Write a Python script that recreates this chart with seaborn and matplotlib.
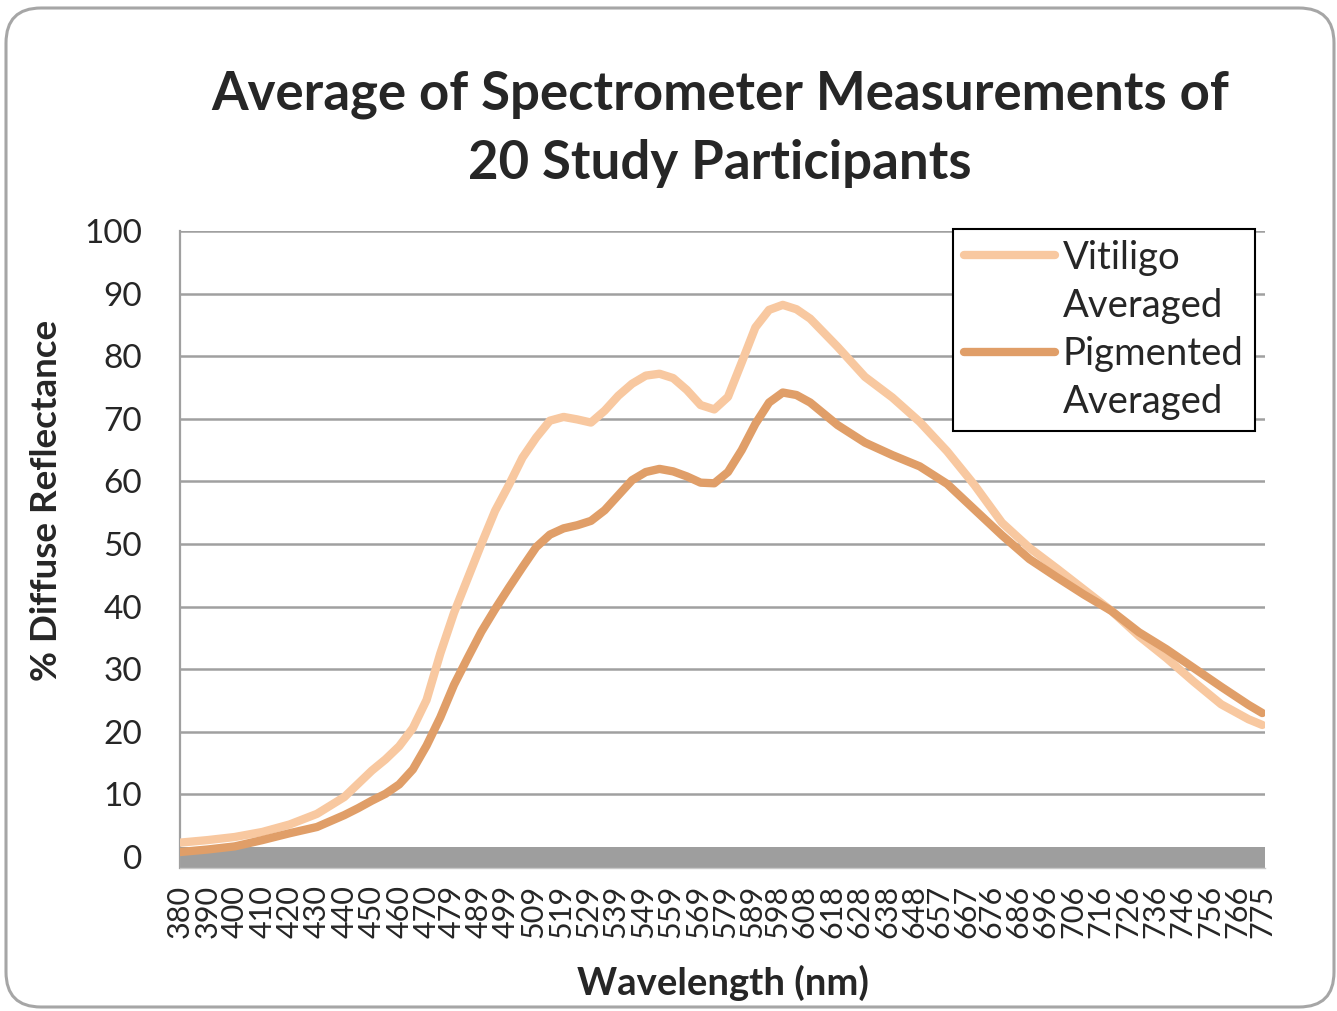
import numpy as np
import pandas as pd
import seaborn as sns
import matplotlib.pyplot as plt
from matplotlib.lines import Line2D
from matplotlib.patches import FancyBboxPatch
from matplotlib.ticker import MultipleLocator
from matplotlib.transforms import IdentityTransform

wavelength = [380, 390, 400, 410, 420, 430, 440, 445, 450, 455, 460, 465, 470, 475,
              480, 485, 490, 495, 500, 505, 510, 515, 520, 525, 530, 535, 540, 545,
              550, 555, 560, 565, 570, 575, 580, 585, 590, 595, 600, 605, 610, 620,
              630, 640, 650, 660, 670, 680, 690, 700, 710, 720, 730, 740, 750, 760,
              770, 775]

vitiligo = [2.3, 2.7, 3.2, 4.0, 5.2, 6.9, 9.6, 11.7, 13.8, 15.6, 17.7, 20.6, 25.1, 32.5,
            39.0, 44.5, 50.0, 55.3, 59.4, 63.8, 67.0, 69.7, 70.3, 69.9, 69.4, 71.3, 73.7, 75.6,
            76.9, 77.2, 76.5, 74.6, 72.2, 71.5, 73.5, 79.0, 84.6, 87.4, 88.2, 87.5, 86.0, 81.5,
            76.7, 73.4, 69.5, 64.8, 59.4, 53.4, 49.4, 46.1, 42.7, 39.3, 35.3, 31.8, 28.0, 24.4,
            22.0, 21.1]

pigmented = [0.8, 1.2, 1.7, 2.7, 3.8, 4.8, 6.7, 7.8, 9.0, 10.1, 11.6, 14.0, 17.8, 22.3,
             27.5, 31.8, 36.0, 39.6, 43.0, 46.3, 49.5, 51.5, 52.5, 53.0, 53.7, 55.4, 57.8, 60.2,
             61.5, 62.0, 61.6, 60.8, 59.8, 59.7, 61.5, 65.0, 69.2, 72.6, 74.2, 73.8, 72.6, 69.0,
             66.2, 64.2, 62.4, 59.6, 55.5, 51.4, 47.6, 44.7, 41.9, 39.3, 35.9, 33.2, 30.2, 27.2,
             24.3, 23.0]

# category labels shown on the x axis
tick_labels = [380, 390, 400, 410, 420, 430, 440, 450, 460, 470, 479, 489, 499, 509, 519,
               529, 539, 549, 559, 569, 579, 589, 598, 608, 618, 628, 638, 648, 657, 667,
               676, 686, 696, 706, 716, 726, 736, 746, 756, 766, 775]

series_names = ["Vitiligo Averaged", "Pigmented Averaged"]
colors = ["#F8C8A0", "#E09E68"]

df = pd.DataFrame({"Wavelength": wavelength,
                   series_names[0]: vitiligo,
                   series_names[1]: pigmented})

sns.set_style("white")
plt.rcParams["font.family"] = ["Lato", "DejaVu Sans"]

fig = plt.figure(figsize=(13.37, 10.11), dpi=100)
ax = fig.add_axes([180 / 1337, 1 - 868.3 / 1011, 1085 / 1337, 637.3 / 1011])

grid_col = "#A0A0A0"

# grey floor band under the zero line
ax.axhspan(-1.8, 1.6, color="#9E9E9E", zorder=1, lw=0)

for name, col in zip(series_names, colors):
    sns.lineplot(data=df, x="Wavelength", y=name, color=col, linewidth=6,
                 ax=ax, zorder=3, legend=False)

ax.set_xlim(380, 776)
ax.set_ylim(-1.8, 100)
ax.set_xlabel("")
ax.set_ylabel("")

ax.yaxis.set_major_locator(MultipleLocator(10))
ax.yaxis.set_minor_locator(MultipleLocator(2))
ax.set_yticks(range(0, 101, 10))
ax.yaxis.grid(True, color=grid_col, lw=1.8, zorder=0)
ax.tick_params(axis="y", which="major", direction="out", length=9.4, width=1.5,
               color=grid_col, pad=18, labelsize=24)
ax.tick_params(axis="y", which="minor", direction="inout", length=13.7, width=1.5,
               color=grid_col)

ax.set_xticks(tick_labels)
ax.set_xticklabels([str(t) for t in tick_labels], rotation=90, fontsize=22)
ax.tick_params(axis="x", length=0, pad=12)

for side in ["top", "right"]:
    ax.spines[side].set_visible(False)
ax.spines["left"].set_color(grid_col)
ax.spines["left"].set_linewidth(1.6)
ax.spines["bottom"].set_color("#C8C8C8")
ax.spines["bottom"].set_linewidth(1)

# legend: each label spread over two rows, line only on the first
handles = [Line2D([], [], color=colors[0], lw=6, solid_capstyle="round"),
           Line2D([], [], color="none"),
           Line2D([], [], color=colors[1], lw=6, solid_capstyle="round"),
           Line2D([], [], color="none")]
labels = ["Vitiligo", "Averaged", "Pigmented", "Averaged"]
leg = ax.legend(handles, labels, loc="upper left",
                bbox_to_anchor=(953 / 1337, 1 - 229 / 1011),
                bbox_transform=fig.transFigure, borderaxespad=0,
                fontsize=27.5, handlelength=2.4, handletextpad=0.2,
                labelspacing=0.32, borderpad=0.28, fancybox=False,
                framealpha=1, edgecolor="black")
leg.get_frame().set_linewidth(1.5)

fig.text(720 / 1337, 1 - 129 / 1011,
         "Average of Spectrometer Measurements of\n20 Study Participants",
         ha="center", va="center", fontsize=38, fontweight="bold", linespacing=1.5)
fig.text(47 / 1337, 1 - 500 / 1011, "% Diffuse Reflectance", rotation=90,
         ha="center", va="center", fontsize=26.5, fontweight="bold")
fig.text(723 / 1337, 1 - 983 / 1011, "Wavelength (nm)",
         ha="center", va="center", fontsize=27.5, fontweight="bold")

# rounded outer border of the chart area
border = FancyBboxPatch((6, 4), 1328, 999, boxstyle="round,pad=0,rounding_size=35",
                        transform=IdentityTransform(), facecolor="none",
                        edgecolor="#A6A6A6", lw=2.2)
fig.add_artist(border)

fig.savefig("out.png", dpi=100)
